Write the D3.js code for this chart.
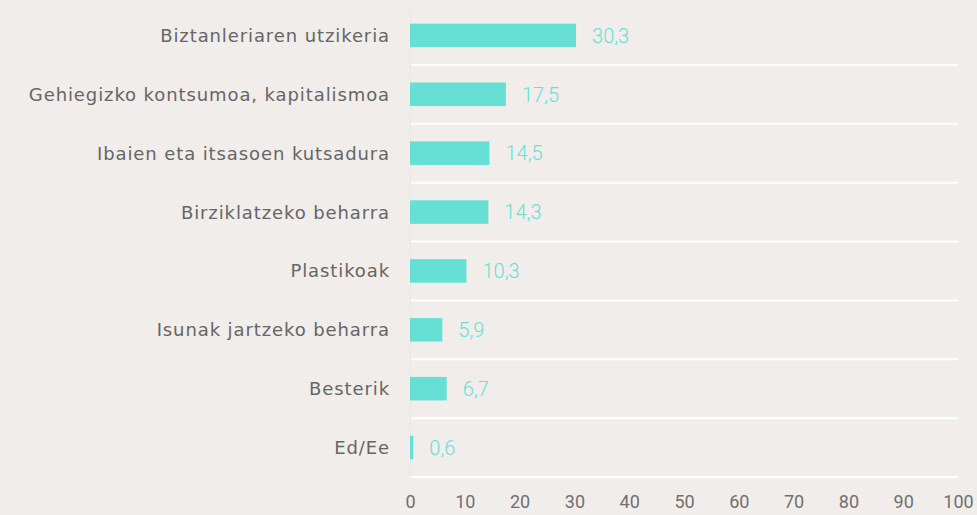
<!DOCTYPE html>
<html>
<head>
<meta charset="utf-8">
<script src="https://cdn.jsdelivr.net/npm/d3@7"></script>
<style>
  body { margin: 0; background: #f0edeb; }
  svg { display: block; }
</style>
</head>
<body>
<div id="chart"></div>
<script>
const categories = [
  'Biztanleriaren utzikeria',
  'Gehiegizko kontsumoa, kapitalismoa',
  'Ibaien eta itsasoen kutsadura',
  'Birziklatzeko beharra',
  'Plastikoak',
  'Isunak jartzeko beharra',
  'Besterik',
  'Ed/Ee'
];
const values = [30.3, 17.5, 14.5, 14.3, 10.3, 5.9, 6.7, 0.6];
const xTicks = [0, 10, 20, 30, 40, 50, 60, 70, 80, 90, 100];

const w = 977;
const h = 515;
const margin = { top: 6, right: 19, bottom: 38, left: 410 };

const fmt = v => d3.format('.1f')(v).replace('.', ',');

const svg = d3.select('#chart')
  .append('svg')
  .attr('width', w)
  .attr('height', h);

svg.append('rect')
  .attr('width', w)
  .attr('height', h)
  .attr('fill', '#f0edeb');

const x = d3.scaleLinear()
  .domain([0, 100])
  .range([margin.left, w - margin.right]);

const y = d3.scaleBand()
  .domain(categories)
  .range([margin.top, h - margin.bottom])
  .paddingInner(0.6)
  .paddingOuter(0.3);

// white separators under each row
const step = y.step();
svg.append('g')
  .selectAll('line')
  .data(categories)
  .join('line')
  .attr('x1', x(0))
  .attr('x2', x(100))
  .attr('y1', d => y(d) + y.bandwidth() / 2 + step / 2)
  .attr('y2', d => y(d) + y.bandwidth() / 2 + step / 2)
  .attr('stroke', '#ffffff')
  .attr('stroke-width', 2);

// faint left edge
svg.append('line')
  .attr('x1', x(0) + 0.5)
  .attr('x2', x(0) + 0.5)
  .attr('y1', margin.top)
  .attr('y2', h - margin.bottom)
  .attr('stroke', '#e9e6e4');

svg.append('g')
  .selectAll('rect')
  .data(values)
  .join('rect')
  .attr('x', x(0))
  .attr('y', (d, i) => y(categories[i]))
  .attr('width', d => x(d) - x(0))
  .attr('height', y.bandwidth())
  .attr('fill', '#66e0d4');

svg.append('g')
  .selectAll('text')
  .data(values)
  .join('text')
  .attr('x', d => x(d) + 16)
  .attr('y', (d, i) => y(categories[i]) + y.bandwidth() / 2)
  .attr('dy', '0.36em')
  .attr('fill', '#66e0d4')
  .style('font-family', 'Roboto, sans-serif')
  .style('font-weight', 300)
  .style('font-size', '20px')
  .text(fmt);

svg.append('g')
  .selectAll('text')
  .data(categories)
  .join('text')
  .attr('x', x(0) - 20)
  .attr('y', d => y(d) + y.bandwidth() / 2)
  .attr('dy', '0.36em')
  .attr('text-anchor', 'end')
  .attr('fill', '#666666')
  .style('font-family', '"DejaVu Sans", sans-serif')
  .style('font-size', '18px')
  .style('letter-spacing', '0.9px')
  .text(d => d);

const xAxis = svg.append('g')
  .attr('transform', `translate(0,${h - margin.bottom})`)
  .call(d3.axisBottom(x).tickValues(xTicks).tickSize(0).tickPadding(18));
xAxis.select('.domain').remove();
xAxis.selectAll('text')
  .attr('fill', '#707070')
  .style('font-family', 'Roboto, sans-serif')
  .style('font-size', '18px');
</script>
</body>
</html>
